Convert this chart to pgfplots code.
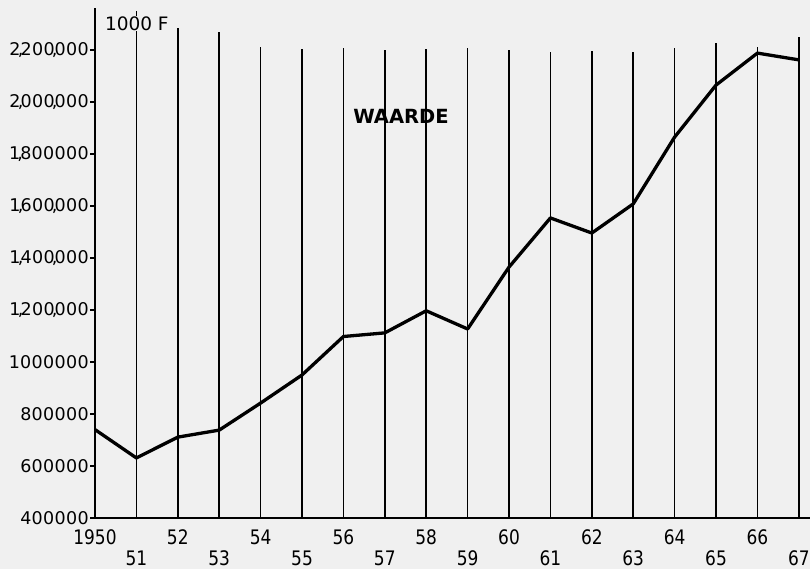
\documentclass[border=0pt]{standalone}
\usepackage{fontspec}
\setmainfont{DejaVu Sans}
\newfontfamily\tickfont[LetterSpace=2]{DejaVu Sans}
\newfontfamily\xfont[FakeStretch=0.85]{DejaVu Sans}
\newcommand\cma{\makebox[0pt][c]{,}}
\usepackage{pgfplots}
\pgfplotsset{compat=1.18}
\begin{document}
\begin{tikzpicture}
\fill[black!6] (-95pt,-51pt) rectangle (715pt,518pt);
\useasboundingbox (-95pt,-51pt) rectangle (715pt,518pt);
\begin{axis}[
  scale only axis, width=715pt, height=510pt,
  at={(0pt,0pt)}, anchor=south west,
  xmin=1950, xmax=1967.27, ymin=400000, ymax=2361500,
  axis lines*=left,
  axis line style={line width=2.2pt, black},
  clip=false,
  unbounded coords=jump,
  ytick={400000,600000,800000,1000000,1200000,1400000,1600000,1800000,2000000,2200000},
  yticklabels={400000,600000,800000,1000000,{1\cma200\cma000},{1\cma400\cma000},{1\cma600\cma000},{1\cma800000},{2\cma000\cma000},{2\cma200\cma000}},
  y tick label style={font=\tickfont\fontsize{17.5}{20}\selectfont, inner sep=1pt},
  ytick style={line width=1.5pt, black},
  tick align=outside,
  major tick length=5pt,
  xtick={1950,1952,1954,1956,1958,1960,1962,1964,1966},
  xticklabels={1950,52,54,56,58,60,62,64,66},
  x tick label style={font=\xfont\fontsize{20}{22}\selectfont, yshift=-3pt},
  xtick style={draw=none},
  extra x ticks={1951,1953,1955,1957,1959,1961,1963,1965,1967},
  extra x tick labels={51,53,55,57,59,61,63,65,67},
  extra x tick style={xtick style={draw=none}, x tick label style={yshift=-21pt}},
]
% vertical year lines
\addplot[black, line width=1.7pt, line cap=butt] coordinates {
(1951,400000) (1951,2350000) (1951,nan)
(1952,400000) (1952,2285000) (1952,nan)
(1953,400000) (1953,2269000) (1953,nan)
(1954,400000) (1954,2212000) (1954,nan)
(1955,400000) (1955,2204000) (1955,nan)
(1956,400000) (1956,2208000) (1956,nan)
(1957,400000) (1957,2200000) (1957,nan)
(1958,400000) (1958,2204000) (1958,nan)
(1959,400000) (1959,2208000) (1959,nan)
(1960,400000) (1960,2200000) (1960,nan)
(1961,400000) (1961,2192000) (1961,nan)
(1962,400000) (1962,2196000) (1962,nan)
(1963,400000) (1963,2192000) (1963,nan)
(1964,400000) (1964,2208000) (1964,nan)
(1965,400000) (1965,2227000) (1965,nan)
(1966,400000) (1966,2212000) (1966,nan)
(1967,400000) (1967,2250000)
};
% value line
\addplot[black, line width=3.3pt, line join=round] coordinates {
(1950,740000) (1951,631000) (1952,711000) (1953,738000) (1954,842000)
(1955,950000) (1956,1098000) (1957,1112000) (1958,1197000) (1959,1127000)
(1960,1365000) (1961,1554000) (1962,1496000) (1963,1608000) (1964,1865000)
(1965,2065000) (1966,2188000) (1967,2162000)
};
\node[font=\fontsize{18.5}{21}\selectfont, fill=black!6, inner sep=0.5pt] at (axis cs:1951.01,2300000) {1000 F};
\node[font=\bfseries\fontsize{19.5}{23}\selectfont] at (axis cs:1957.39,1946000) {WAARDE};
\end{axis}
\end{tikzpicture}
\end{document}
